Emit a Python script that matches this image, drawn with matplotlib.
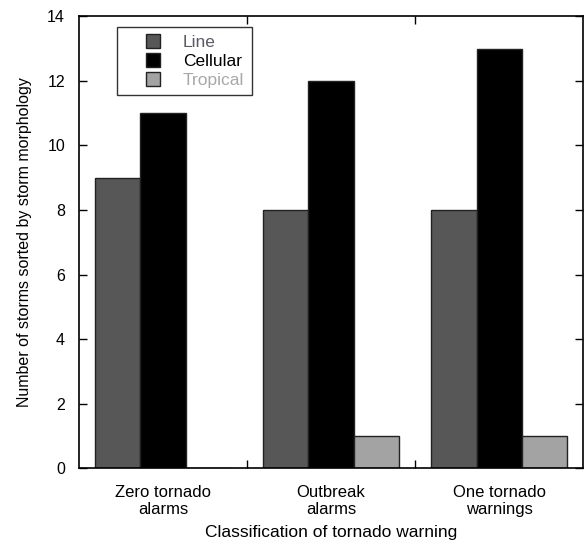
import numpy as np
import matplotlib.pyplot as plt
from matplotlib.ticker import FixedLocator
from matplotlib.lines import Line2D

plt.rcParams['font.family'] = ['Liberation Sans', 'DejaVu Sans']

categories = ['Zero tornado\nalarms', 'Outbreak\nalarms', 'One tornado\nwarnings']
series_names = ['Line', 'Cellular', 'Tropical']
line_vals = [9, 8, 8]
cellular_vals = [11, 12, 13]
tropical_vals = [0, 1, 1]
colors = ['#575757', '#000000', '#a3a3a3']
text_colors = ['#5a5a66', '#000000', '#a8a8a8']

fig = plt.figure(figsize=(5.85, 5.45), dpi=100)
ax = fig.add_axes([0.135, 0.141, 0.862, 0.829])

x = np.arange(len(categories))
w = 0.27
for i, vals in enumerate([line_vals, cellular_vals, tropical_vals]):
    ax.bar(x + (i - 1) * w, vals, width=w, color=colors[i],
           edgecolor='#222222', linewidth=1.0)

ax.set_xlim(-0.5, 2.5)
ax.set_ylim(0, 14)
ax.set_yticks(np.arange(0, 15, 2))
ax.set_xticks(x)
ax.set_xticklabels(categories, fontsize=12, linespacing=1.15)
ax.xaxis.set_minor_locator(FixedLocator([0.5, 1.5]))
ax.tick_params(axis='x', which='major', length=0, pad=12)
ax.tick_params(axis='x', which='minor', direction='in', length=6, top=True, width=1)
ax.tick_params(axis='y', direction='in', length=6, right=True, labelsize=11.5, pad=10, width=1)
for s in ax.spines.values():
    s.set_linewidth(1.2)

ax.set_ylabel('Number of storms sorted by storm morphology', fontsize=11.5, labelpad=11)
ax.set_xlabel('Classification of tornado warning', fontsize=12.5, labelpad=6)

# square legend markers
handles = [Line2D([], [], linestyle='none', marker='s', markersize=10,
                  markerfacecolor=c, markeredgecolor='#222222', markeredgewidth=1)
           for c in colors]
leg = ax.legend(handles, series_names, loc='upper left', bbox_to_anchor=(0.075, 0.976),
                fontsize=12.5, frameon=True, fancybox=False, edgecolor='black',
                handlelength=3.3, handletextpad=0.1, numpoints=1,
                borderpad=0.42, borderaxespad=0, labelspacing=0.22)
leg.get_frame().set_linewidth(1.0)
for t, c in zip(leg.get_texts(), text_colors):
    t.set_color(c)

fig.savefig('out.png', dpi=100)
